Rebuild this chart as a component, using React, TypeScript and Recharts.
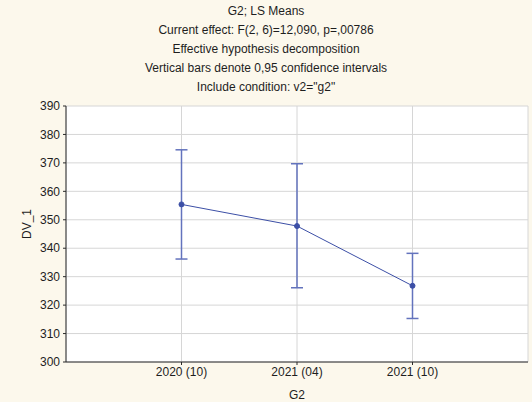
import { ComposedChart, Line, XAxis, YAxis, CartesianGrid, ErrorBar } from 'recharts';

// LS means for G2 with 0,95 confidence limits
const groups = ['2020 (10)', '2021 (04)', '2021 (10)'];
const lsMeans = [355.4, 347.8, 326.8];
const ciLower = [336.2, 326.1, 315.3];
const ciUpper = [374.6, 369.7, 338.2];
const yTicks = [300, 310, 320, 330, 340, 350, 360, 370, 380, 390];
const titleLines = [
  'G2; LS Means',
  'Current effect: F(2, 6)=12,090, p=,00786',
  'Effective hypothesis decomposition',
  'Vertical bars denote 0,95 confidence intervals',
  'Include condition: v2="g2"',
];

const data = groups.map((g, i) => ({
  pos: i + 1,
  mean: lsMeans[i],
  ci: [lsMeans[i] - ciLower[i], ciUpper[i] - lsMeans[i]],
}));

const xPositions = groups.map((_, i) => i + 1);
const SERIES = '#3c4fa6';
const FRAME = '#2a2a2a';

export default function App() {
  return (
    <div
      style={{
        position: 'relative',
        width: 532,
        height: 402,
        background: '#fcf8ec',
        fontFamily: '"Liberation Sans", Arial, sans-serif',
        color: '#1e1e1e',
      }}
    >
      <style>{'body{margin:0}'}</style>
      <div
        style={{
          position: 'absolute',
          left: 0,
          top: 2,
          width: 532,
          textAlign: 'center',
          fontSize: 12,
          lineHeight: '19px',
        }}
      >
        {titleLines.map((t) => (
          <div key={t}>{t}</div>
        ))}
      </div>
      <ComposedChart
        width={532}
        height={402}
        data={data}
        margin={{ top: 106, right: 4, bottom: 0, left: 0 }}
        style={{ position: 'absolute', left: 0, top: 0 }}
      >
        <CartesianGrid stroke="#d6d6d6" fill="#ffffff" />
        <XAxis
          type="number"
          dataKey="pos"
          domain={[0, 4]}
          ticks={xPositions}
          tickFormatter={(v: number) => groups[v - 1] ?? ''}
          height={40}
          tickSize={3}
          tickMargin={2}
          stroke={FRAME}
          tick={{ fontSize: 12, fill: '#1e1e1e' }}
          label={{ value: 'G2', position: 'insideBottom', offset: 3, fontSize: 12, fill: '#1e1e1e' }}
        />
        <XAxis
          xAxisId="top"
          orientation="top"
          type="number"
          dataKey="pos"
          domain={[0, 4]}
          ticks={xPositions}
          height={0}
          mirror
          tick={false}
          tickSize={3}
          stroke={FRAME}
        />
        <YAxis
          type="number"
          domain={[300, 390]}
          ticks={yTicks}
          width={66}
          tickSize={3}
          tickMargin={3}
          stroke={FRAME}
          tick={{ fontSize: 12, fill: '#1e1e1e' }}
          label={({ viewBox }: any) => {
            const cx = viewBox.x + 27;
            const cy = viewBox.y + viewBox.height / 2 - 10;
            return (
              <text
                x={cx}
                y={cy}
                transform={`rotate(-90 ${cx} ${cy})`}
                textAnchor="middle"
                dominantBaseline="central"
                fontSize={12}
                fill="#1e1e1e"
              >
                DV_1
              </text>
            );
          }}
        />
        <YAxis
          yAxisId="right"
          orientation="right"
          type="number"
          domain={[300, 390]}
          ticks={yTicks}
          width={0}
          mirror
          tick={false}
          tickSize={3}
          stroke={FRAME}
        />
        <Line
          type="linear"
          dataKey="mean"
          stroke={SERIES}
          strokeWidth={1}
          dot={{ r: 2.5, fill: SERIES, stroke: SERIES, strokeWidth: 1 }}
          isAnimationActive={false}
        >
          <ErrorBar dataKey="ci" direction="y" width={6} stroke="#6373bd" strokeWidth={1.5} isAnimationActive={false} />
        </Line>
      </ComposedChart>
    </div>
  );
}
